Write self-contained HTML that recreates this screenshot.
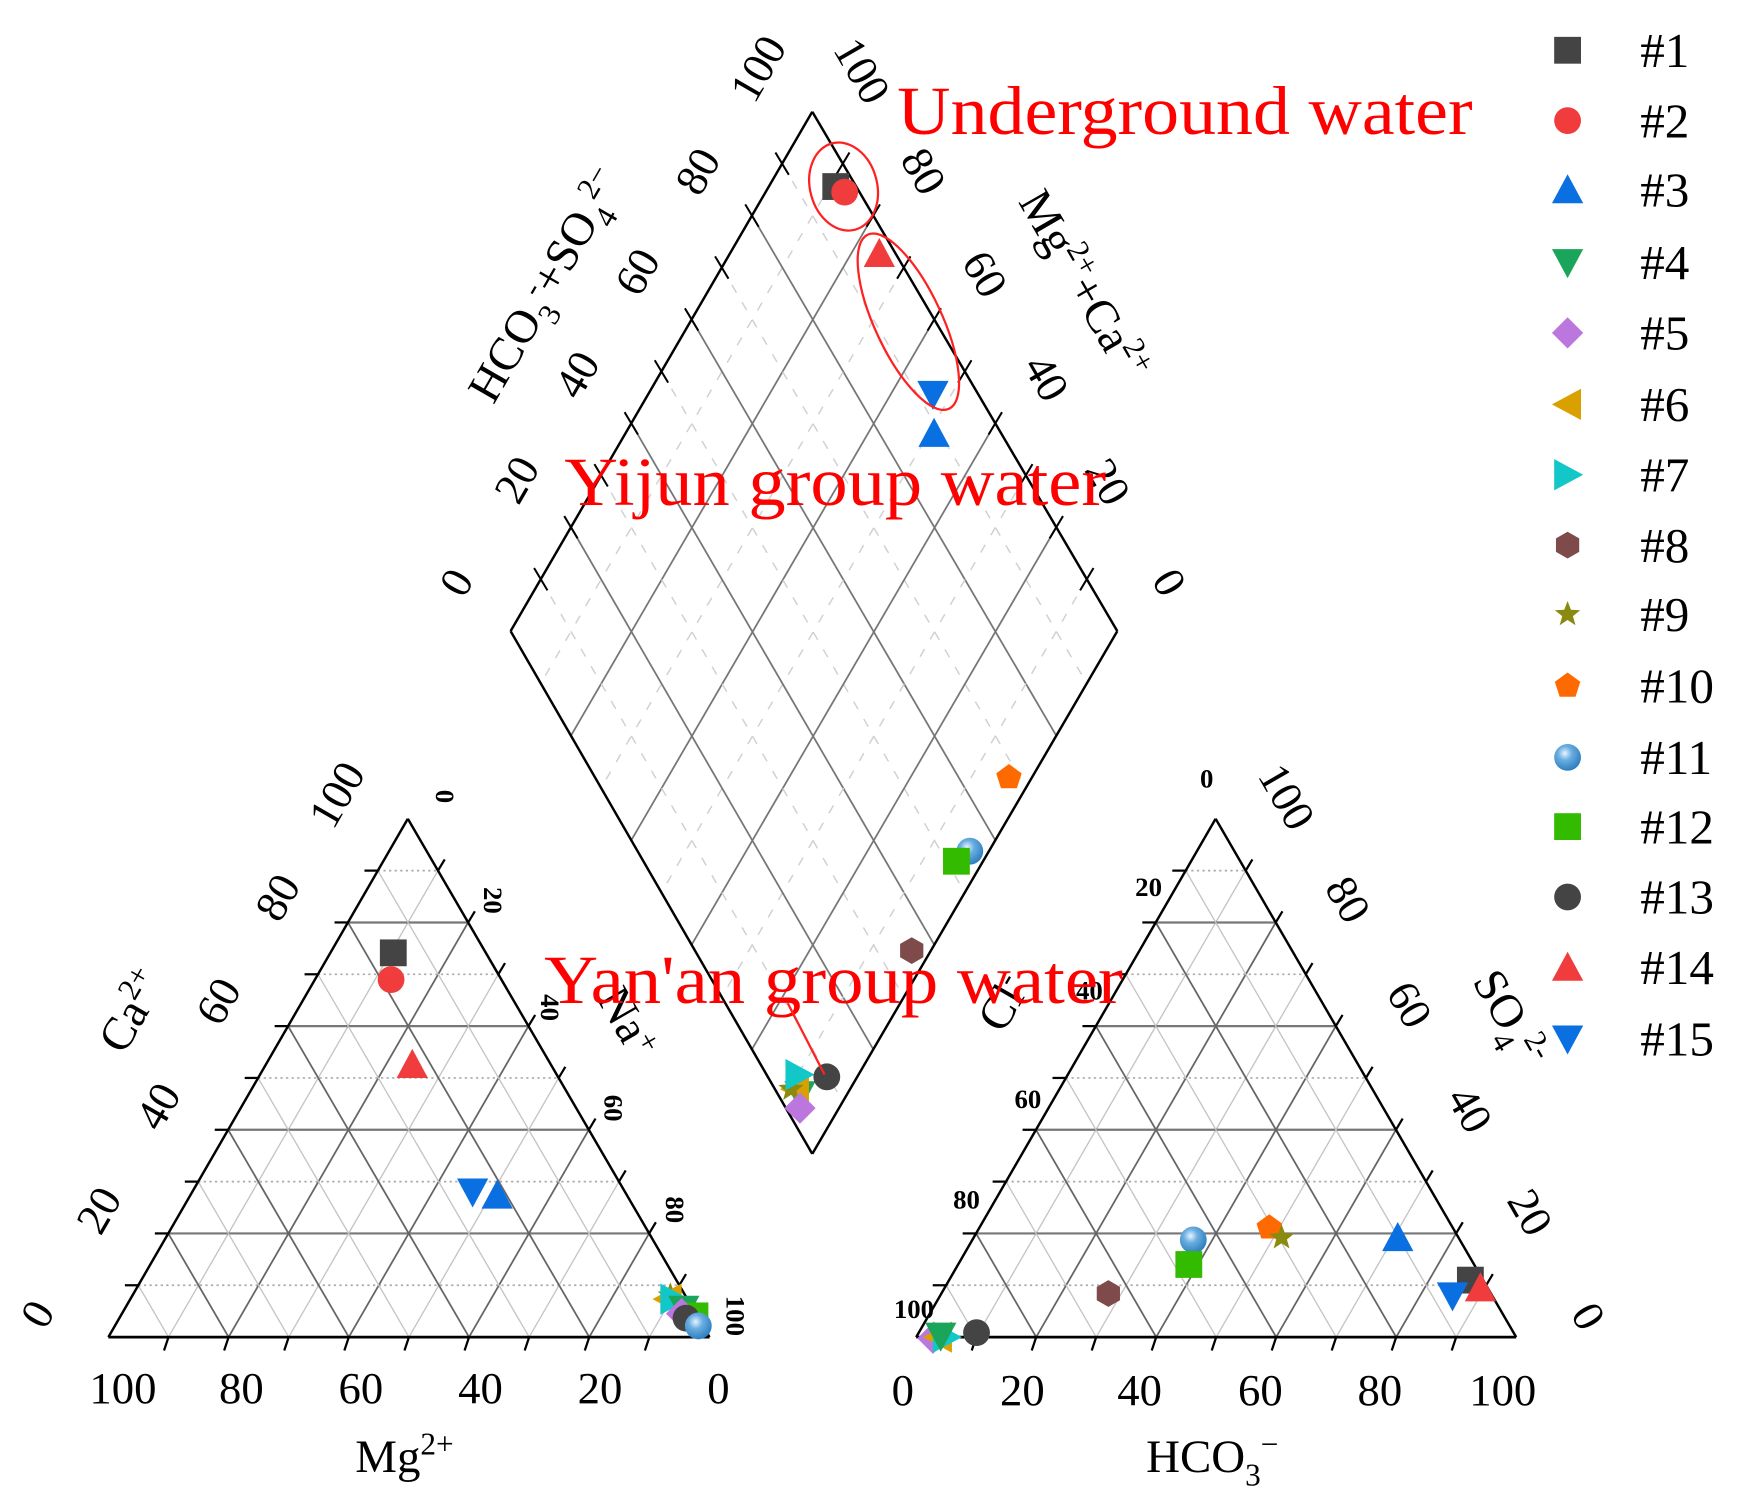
<!DOCTYPE html>
<html><head><meta charset="utf-8"><style>
html,body{margin:0;padding:0;background:#fff;}
svg{display:block;}
text{font-family:"Liberation Serif",serif;}
</style></head><body>
<svg id="s" width="1743" height="1508" viewBox="0 0 1560 1350" preserveAspectRatio="none" xmlns="http://www.w3.org/2000/svg">
<defs>
<radialGradient id="sph" cx="40%" cy="35%" r="65%"><stop offset="0" stop-color="#e8f4ff"/><stop offset="0.4" stop-color="#6aaee0"/><stop offset="1" stop-color="#2f7fc0"/></radialGradient>
</defs>
<g id="grid"></g>
<g id="marks"></g>
<g font-size="40" fill="#000">
<text transform="translate(690,68) rotate(-60)" text-anchor="middle">100</text>
<text transform="translate(636,160) rotate(-60)" text-anchor="middle">80</text>
<text transform="translate(582,250) rotate(-60)" text-anchor="middle">60</text>
<text transform="translate(528,342) rotate(-60)" text-anchor="middle">40</text>
<text transform="translate(474,436) rotate(-60)" text-anchor="middle">20</text>
<text transform="translate(420,528) rotate(-60)" text-anchor="middle">0</text>
<text transform="translate(760,70) rotate(60)" text-anchor="middle">100</text>
<text transform="translate(815,160) rotate(60)" text-anchor="middle">80</text>
<text transform="translate(870,252) rotate(60)" text-anchor="middle">60</text>
<text transform="translate(925,345) rotate(60)" text-anchor="middle">40</text>
<text transform="translate(980,438) rotate(60)" text-anchor="middle">20</text>
<text transform="translate(1035,528) rotate(60)" text-anchor="middle">0</text>
<text transform="translate(500,262) rotate(-60)" text-anchor="middle" font-size="42">HCO<tspan font-size="28" dy="12">3</tspan><tspan font-size="28" dy="-26">-</tspan><tspan dy="14">+SO</tspan><tspan font-size="28" dy="12">4</tspan><tspan font-size="28" dy="-26">2−</tspan></text>
<text transform="translate(958,262) rotate(60)" text-anchor="middle" font-size="42">Mg<tspan font-size="28" dy="-16">2+</tspan><tspan dy="16">+Ca</tspan><tspan font-size="28" dy="-16">2+</tspan></text>
<text transform="translate(313,718) rotate(-60)" text-anchor="middle">100</text>
<text transform="translate(260,810) rotate(-60)" text-anchor="middle">80</text>
<text transform="translate(207,903) rotate(-60)" text-anchor="middle">60</text>
<text transform="translate(153,997) rotate(-60)" text-anchor="middle">40</text>
<text transform="translate(100,1090) rotate(-60)" text-anchor="middle">20</text>
<text transform="translate(45,1183) rotate(-60)" text-anchor="middle">0</text>
<text transform="translate(130,912) rotate(-60)" text-anchor="middle" font-size="42">Ca<tspan font-size="28" dy="-16">2+</tspan></text>
<text transform="translate(550,922) rotate(60)" text-anchor="middle" font-size="42">Na<tspan font-size="28" dy="-12">+</tspan></text>
<text x="110" y="1256" text-anchor="middle">100</text>
<text x="216" y="1256" text-anchor="middle">80</text>
<text x="323" y="1256" text-anchor="middle">60</text>
<text x="430" y="1256" text-anchor="middle">40</text>
<text x="537" y="1256" text-anchor="middle">20</text>
<text x="643" y="1256" text-anchor="middle">0</text>
<text x="362" y="1318" text-anchor="middle" font-size="42">Mg<tspan font-size="28" dy="-16">2+</tspan></text>
<text transform="translate(1140,720) rotate(60)" text-anchor="middle">100</text>
<text transform="translate(1195,812) rotate(60)" text-anchor="middle">80</text>
<text transform="translate(1250,906) rotate(60)" text-anchor="middle">60</text>
<text transform="translate(1304,1000) rotate(60)" text-anchor="middle">40</text>
<text transform="translate(1358,1092) rotate(60)" text-anchor="middle">20</text>
<text transform="translate(1410,1185) rotate(60)" text-anchor="middle">0</text>
<text transform="translate(1340,918) rotate(60)" text-anchor="middle" font-size="42">SO<tspan font-size="28" dy="12">4</tspan><tspan font-size="28" dy="-26">2-</tspan></text>
<text transform="translate(910,905) rotate(-60)" text-anchor="middle" font-size="42">Cl<tspan font-size="28" dy="-14">-</tspan></text>
<text x="808" y="1258" text-anchor="middle">0</text>
<text x="915" y="1258" text-anchor="middle">20</text>
<text x="1020" y="1258" text-anchor="middle">40</text>
<text x="1128" y="1258" text-anchor="middle">60</text>
<text x="1235" y="1258" text-anchor="middle">80</text>
<text x="1345" y="1258" text-anchor="middle">100</text>
<text x="1085" y="1318" text-anchor="middle" font-size="42">HCO<tspan font-size="28" dy="12">3</tspan><tspan font-size="28" dy="-28">−</tspan></text>
</g>
<g font-family="Liberation Sans, sans-serif" font-weight="bold" font-size="24" fill="#000">
<text transform="translate(390,713) rotate(90)" text-anchor="middle">0</text>
<text transform="translate(433,806) rotate(90)" text-anchor="middle">20</text>
<text transform="translate(484,902) rotate(90)" text-anchor="middle">40</text>
<text transform="translate(541,992) rotate(90)" text-anchor="middle">60</text>
<text transform="translate(596,1083) rotate(90)" text-anchor="middle">80</text>
<text transform="translate(650,1178) rotate(90)" text-anchor="middle">100</text>
<text x="1080" y="705" text-anchor="middle">0</text>
<text x="1028" y="802" text-anchor="middle">20</text>
<text x="975" y="895" text-anchor="middle">40</text>
<text x="920" y="992" text-anchor="middle">60</text>
<text x="865" y="1082" text-anchor="middle">80</text>
<text x="818" y="1180" text-anchor="middle">100</text>
</g>
<g fill="#ff0000" font-size="62">
<text x="803" y="120" textLength="515" lengthAdjust="spacingAndGlyphs">Underground water</text>
<text x="505" y="452" textLength="485" lengthAdjust="spacingAndGlyphs">Yijun group water</text>
<text x="487" y="898" textLength="518" lengthAdjust="spacingAndGlyphs">Yan'an group water</text>
</g>
<ellipse cx="755" cy="167" rx="30" ry="40" transform="rotate(-15 755 167)" fill="none" stroke="#ff2020" stroke-width="2"/>
<ellipse cx="813" cy="288" rx="30" ry="86" transform="rotate(-25 813 288)" fill="none" stroke="#ff2020" stroke-width="2"/>
<line x1="705" y1="898" x2="738" y2="962" stroke="#ff2020" stroke-width="2"/>
<g id="legend" font-size="44" fill="#000"></g>
<script>
(function(){
var NS="http://www.w3.org/2000/svg";
var g=document.getElementById('grid');
function ln(a,b,st,w,da){var l=document.createElementNS(NS,'line');l.setAttribute('x1',a[0]);l.setAttribute('y1',a[1]);l.setAttribute('x2',b[0]);l.setAttribute('y2',b[1]);l.setAttribute('stroke',st);l.setAttribute('stroke-width',w);if(da)l.setAttribute('stroke-dasharray',da);g.appendChild(l);}
function lerp(p,q,f){return [p[0]+(q[0]-p[0])*f,p[1]+(q[1]-p[1])*f];}
function tri(A,B,C){
 for(var i=1;i<10;i++){var f=i/10;var solid=i%2==0;
  var h1=lerp(B,A,f),h2=lerp(C,A,f);
  if(solid)ln(h1,h2,'#777',2);else ln(h1,h2,'#aaa',1.5,'2 3');
  var p=lerp(B,C,f);
  ln(p,lerp(C,A,1-f),solid?'#666':'#c4c4c4',solid?1.6:1.2);
  ln(p,lerp(B,A,f),solid?'#666':'#c4c4c4',solid?1.6:1.2);
  var t=lerp(B,C,f);ln(t,[t[0]-4,t[1]+12],'#000',2);
  var t2=lerp(B,A,f);ln(t2,[t2[0]-12,t2[1]],'#000',2);
  var t3=lerp(C,A,f);ln(t3,[t3[0]+6,t3[1]-10],'#000',2);
 }
 ln(A,B,'#000',2.2);ln(B,C,'#000',2.5);ln(C,A,'#000',2.2);
}
tri([365,733],[97,1197],[635,1197]);
tri([1088,733],[820,1197],[1357,1197]);
var T=[727,100],L=[457,565],R=[1000,565],Bt=[727,1033];
for(var i=1;i<10;i++){var f=i/10,s=i%2==0;
 ln(lerp(T,R,f),lerp(L,Bt,f),s?'#777':'#d0d0d0',s?1.6:1.3,s?null:'8 10');
 ln(lerp(T,L,f),lerp(R,Bt,f),s?'#777':'#d0d0d0',s?1.6:1.3,s?null:'8 10');
 var a=lerp(T,L,f);ln([a[0]-6,a[1]-10],[a[0]+6,a[1]+10],'#000',1.8);
 var b=lerp(T,R,f);ln([b[0]-6,b[1]+10],[b[0]+6,b[1]-10],'#000',1.8);
}
ln(T,L,'#000',2.2);ln(L,Bt,'#000',2.2);ln(Bt,R,'#000',2.2);ln(R,T,'#000',2.2);
var m=document.getElementById('marks');
var col={1:'#444',2:'#f03c3c',3:'#0a6fe0',4:'#1aa55a',5:'#bb77dd',6:'#d9a000',7:'#11c7c7',8:'#7f4a4a',9:'#8a8a10',10:'#ff6a00',11:'url(#sph)',12:'#33bb00',13:'#444',14:'#f03c3c',15:'#0a6fe0'};
function poly(pts){return pts.map(function(p){return p[0].toFixed(1)+','+p[1].toFixed(1)}).join(' ');}
function mk(par,n,x,y,r){r=r||11;var e;
 var fill=col[n];
 switch(n){
 case 1:case 12:e=document.createElementNS(NS,'rect');e.setAttribute('x',x-r);e.setAttribute('y',y-r);e.setAttribute('width',2*r);e.setAttribute('height',2*r);break;
 case 2:case 11:case 13:e=document.createElementNS(NS,'circle');e.setAttribute('cx',x);e.setAttribute('cy',y);e.setAttribute('r',r);break;
 case 3:case 14:e=document.createElementNS(NS,'polygon');e.setAttribute('points',poly([[x,y-r-2],[x+r+2,y+r],[x-r-2,y+r]]));break;
 case 4:case 15:e=document.createElementNS(NS,'polygon');e.setAttribute('points',poly([[x-r-2,y-r],[x+r+2,y-r],[x,y+r+2]]));break;
 case 5:e=document.createElementNS(NS,'polygon');e.setAttribute('points',poly([[x,y-r-2],[x+r+2,y],[x,y+r+2],[x-r-2,y]]));break;
 case 6:e=document.createElementNS(NS,'polygon');e.setAttribute('points',poly([[x-r-2,y],[x+r,y-r-2],[x+r,y+r+2]]));break;
 case 7:e=document.createElementNS(NS,'polygon');e.setAttribute('points',poly([[x+r+2,y],[x-r,y-r-2],[x-r,y+r+2]]));break;
 case 8:var p=[];for(var k=0;k<6;k++){var a=Math.PI/6+k*Math.PI/3;p.push([x+r*Math.cos(a),y+r*Math.sin(a)]);}e=document.createElementNS(NS,'polygon');e.setAttribute('points',poly(p));break;
 case 9:var p=[];for(var k=0;k<10;k++){var a=-Math.PI/2+k*Math.PI/5,rr=k%2?r*0.42:r;p.push([x+rr*Math.cos(a),y+rr*Math.sin(a)]);}e=document.createElementNS(NS,'polygon');e.setAttribute('points',poly(p));break;
 case 10:var p=[];for(var k=0;k<5;k++){var a=-Math.PI/2+k*2*Math.PI/5;p.push([x+r*Math.cos(a),y+r*Math.sin(a)]);}e=document.createElementNS(NS,'polygon');e.setAttribute('points',poly(p));break;
 }
 e.setAttribute('fill',fill);par.appendChild(e);
}
var pts=[
[1,748,167],[2,756,172],[14,787,227],[15,835,353],[3,836,388],[10,903,696],[11,868,762],[12,856,771],[8,816,851],
[4,716,980],[6,712,975],[9,708,975],[5,716,992],[7,715,962],[13,740,964],
[1,352,853],[2,350,877],[14,369,953],[15,423,1067],[3,445,1070],
[9,600,1160],[6,598,1163],[7,603,1163],[4,612,1172],[12,622,1178],[5,610,1176],[13,614,1180],[11,625,1187],
[11,1068,1110],[12,1064,1132],[10,1136,1099],[9,1147,1108],[3,1251,1108],[1,1316,1146],[15,1300,1160],[14,1325,1153],[8,992,1158],
[5,835,1198],[6,840,1197],[7,847,1197],[4,842,1196],[13,874,1193]];
pts.forEach(function(q){mk(m,q[0],q[1],q[2],12);});
var lg=document.getElementById('legend');
var ys=[45,108,170,235,298,362,425,488,550,614,678,740,803,866,930];
for(var n=1;n<=15;n++){var y=ys[n-1];mk(lg,n,1403,y,12);
 var t=document.createElementNS(NS,'text');t.setAttribute('x',1468);t.setAttribute('y',y+15);t.textContent='#'+n;lg.appendChild(t);}
})();
</script>
</svg>
</body></html>
